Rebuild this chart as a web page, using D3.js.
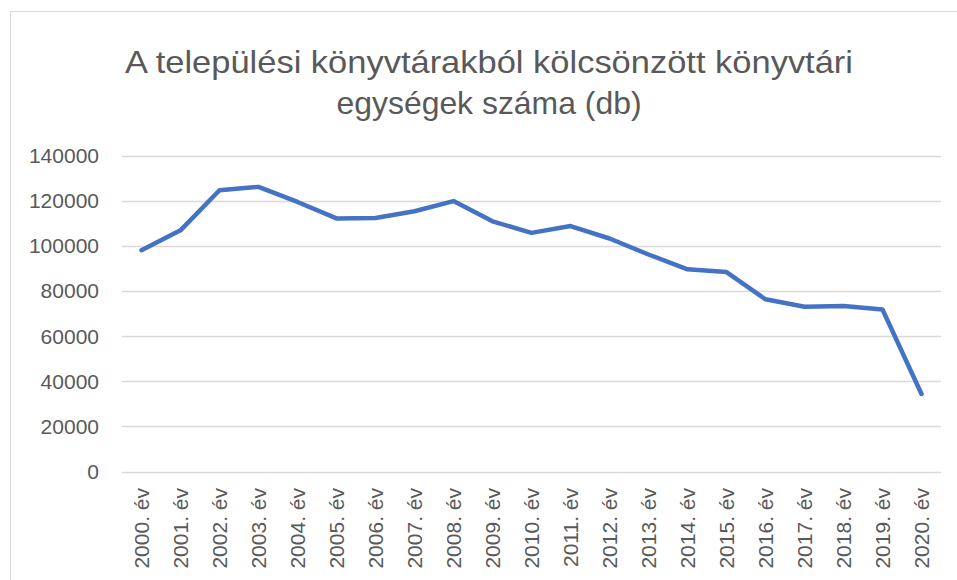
<!DOCTYPE html>
<html>
<head>
<meta charset="utf-8">
<script src="https://cdn.jsdelivr.net/npm/d3@7"></script>
<style>
  body { margin: 0; background: #fff; }
  svg { display: block; font-family: "Liberation Sans", Arial, sans-serif; }
</style>
</head>
<body>
<div id="chart"></div>
<script>
// Kölcsönzött könyvtári egységek (db), évenként
var years = ["2000. év", "2001. év", "2002. év", "2003. év", "2004. év", "2005. év", "2006. év",
  "2007. év", "2008. év", "2009. év", "2010. év", "2011. év", "2012. év", "2013. év",
  "2014. év", "2015. év", "2016. év", "2017. év", "2018. év", "2019. év", "2020. év"];
var loans = [98200, 107000, 124800, 126300, 119600, 112300, 112500,
  115500, 120000, 111000, 105900, 108900, 103400, 96300,
  89700, 88500, 76400, 73100, 73400, 71900, 34400];
var yTicks = [0, 20000, 40000, 60000, 80000, 100000, 120000, 140000];
var titleLines = ["A települési könyvtárakból kölcsönzött könyvtári", "egységek száma (db)"];

var width = 957, height = 580;
var margin = { top: 156, right: 16, bottom: 108, left: 122 };

var svg = d3.select("#chart").append("svg")
  .attr("width", width)
  .attr("height", height);

// chart area frame
svg.append("rect")
  .attr("x", 10.5).attr("y", 11.5)
  .attr("width", width + 20).attr("height", height + 20)
  .attr("fill", "#fff")
  .attr("stroke", "#d9d9d9");

// title
svg.append("g").selectAll("text")
  .data(titleLines)
  .enter().append("text")
  .attr("x", 489)
  .attr("y", (d, i) => 73 + i * 41)
  .attr("text-anchor", "middle")
  .attr("font-size", "32px")
  .attr("fill", "#595959")
  .attr("textLength", (d, i) => i === 0 ? 728 : 305)
  .attr("lengthAdjust", "spacingAndGlyphs")
  .text(d => d);

var x = d3.scaleBand()
  .domain(years)
  .range([margin.left, width - margin.right]);

var y = d3.scaleLinear()
  .domain([0, 140000])
  .range([height - margin.bottom - 0.5, margin.top]);

// gridlines
svg.append("g")
  .selectAll("line")
  .data(yTicks)
  .enter().append("line")
  .attr("x1", margin.left)
  .attr("x2", width - margin.right)
  .attr("y1", d => Math.round(y(d)) + 0.5)
  .attr("y2", d => Math.round(y(d)) + 0.5)
  .attr("stroke", "#d9d9d9")
  .attr("stroke-width", 1.3);

// y axis labels
var yAxis = svg.append("g")
  .attr("transform", `translate(${margin.left},0)`)
  .call(d3.axisLeft(y).tickValues(yTicks).tickSize(0).tickPadding(23).tickFormat(d3.format("d")));
yAxis.select(".domain").remove();
yAxis.selectAll("text")
  .attr("font-size", "21px")
  .attr("fill", "#595959")
  .attr("font-family", "Liberation Sans, Arial, sans-serif");

// x axis labels (rotated)
var xAxis = svg.append("g")
  .attr("transform", `translate(0,${height - margin.bottom})`)
  .call(d3.axisBottom(x).tickSize(0).tickPadding(0));
xAxis.select(".domain").remove();
xAxis.selectAll("text")
  .attr("transform", "rotate(-90)")
  .attr("x", -16)
  .attr("y", 0)
  .attr("dy", "0.36em")
  .attr("text-anchor", "end")
  .attr("font-size", "21px")
  .attr("fill", "#595959")
  .attr("font-family", "Liberation Sans, Arial, sans-serif");

// line
var line = d3.line()
  .x((d, i) => x(years[i]) + x.bandwidth() / 2)
  .y(d => y(d));

svg.append("path")
  .datum(loans)
  .attr("d", line)
  .attr("fill", "none")
  .attr("stroke", "#4472c4")
  .attr("stroke-width", 4.5)
  .attr("stroke-linejoin", "round")
  .attr("stroke-linecap", "round");
</script>
</body>
</html>
